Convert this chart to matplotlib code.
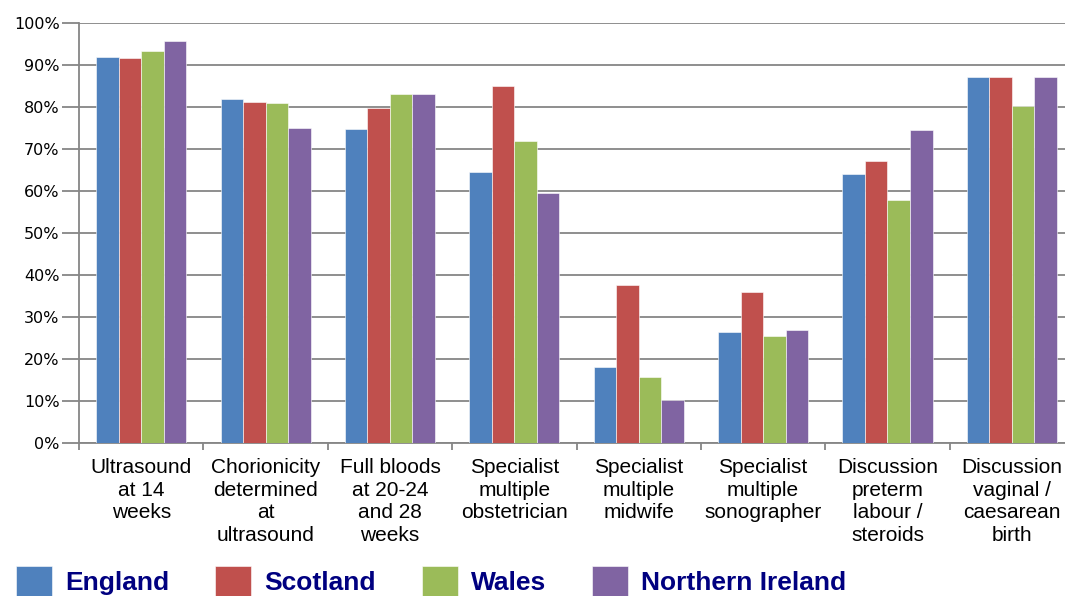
import numpy as np
from matplotlib import pyplot as plt

categories = ["Ultrasound\nat 14\nweeks", "Chorionicity\ndetermined\nat\nultrasound",
              "Full bloods\nat 20-24\nand 28\nweeks", "Specialist\nmultiple\nobstetrician",
              "Specialist\nmultiple\nmidwife", "Specialist\nmultiple\nsonographer",
              "Discussion\npreterm\nlabour /\nsteroids", "Discussion\nvaginal /\ncaesarean\nbirth"]

england = [91.9, 81.8, 74.6, 64.4, 18.2, 26.4, 64.0, 87.0]
scotland = [91.7, 81.2, 79.8, 84.9, 37.7, 35.9, 67.0, 87.0]
wales = [93.3, 80.9, 83.0, 71.8, 15.6, 25.5, 57.8, 80.2]
n_ireland = [95.6, 74.9, 83.0, 59.4, 10.2, 26.9, 74.4, 87.0]

series = [("England", england, '#4F81BD'),
          ("Scotland", scotland, '#C0504D'),
          ("Wales", wales, '#9BBB59'),
          ("Northern Ireland", n_ireland, '#8064A2')]

fig = plt.figure(figsize=(10.65, 5.96), dpi=100)
ax = fig.add_axes([0.0742, 0.2567, 0.9343, 0.7053])

x = np.arange(len(categories))
w = 0.181
for i, (name, vals, col) in enumerate(series):
    ax.bar(x + (i - 1.5) * w, vals, width=w, color=col, label=name,
           edgecolor='white', linewidth=0.4, zorder=3)

ax.set_xlim(-0.5, len(categories) - 0.5)
ax.set_ylim(0, 100)
ax.set_yticks(np.arange(0, 101, 10))
ax.set_yticklabels([f"{v}%" for v in range(0, 101, 10)], fontsize=11.5, family='DejaVu Sans')
ax.yaxis.grid(True, color='#868686', linewidth=1.3, zorder=0)
ax.tick_params(axis='y', length=12, width=1.3, color='#868686', pad=2)

ax.set_xticks(x)
ax.set_xticklabels(categories, fontsize=15, family='Liberation Sans', linespacing=1.24)
ax.set_xticks(np.arange(-0.5, len(categories), 1), minor=True)
ax.tick_params(axis='x', which='major', length=0, pad=11)
ax.tick_params(axis='x', which='minor', length=5, width=1.3, color='#868686')

for s in ['top', 'right']:
    ax.spines[s].set_visible(False)
for s in ['left', 'bottom']:
    ax.spines[s].set_color('#868686')
    ax.spines[s].set_linewidth(1.3)

fig.legend(loc='lower left', bbox_to_anchor=(-0.007, -0.042), ncol=4, frameon=False,
           prop={'family': 'Liberation Sans', 'weight': 'bold', 'size': 19},
           labelcolor='#000080', handlelength=1.35, handleheight=1.45,
           handletextpad=0.5, columnspacing=1.75)

fig.savefig("out.png", dpi=100)
